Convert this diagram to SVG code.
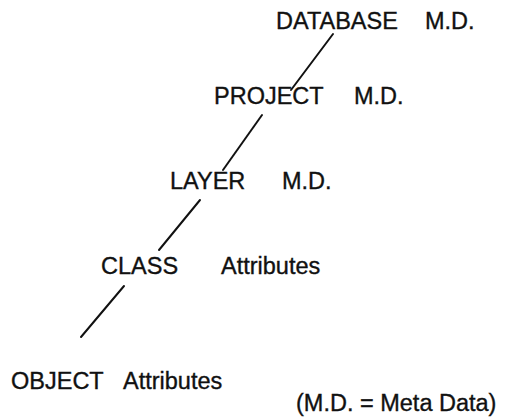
<svg xmlns="http://www.w3.org/2000/svg" width="505" height="417" viewBox="0 0 505 417">
  <style>
    .t { font-family: "Liberation Sans", Arial, Helvetica, sans-serif; font-size: 23.5px; fill: #111; stroke: #111; stroke-width: 0.35; }
    .c { stroke: #111; stroke-width: 2; fill: none; stroke-linecap: round; }
  </style>
  <rect width="505" height="417" fill="#fff"/>
  <g id="connectors">
    <line class="c" x1="333" y1="34" x2="291" y2="90"/>
    <line class="c" x1="262" y1="115" x2="223" y2="170"/>
    <line class="c" x1="200" y1="200" x2="159" y2="250"/>
    <line class="c" x1="124" y1="286" x2="81" y2="337"/>
  </g>
  <g id="database">
    <text class="t" x="276" y="29">DATABASE</text>
    <text class="t" x="425" y="29">M.D.</text>
  </g>
  <g id="project">
    <text class="t" x="214" y="104">PROJECT</text>
    <text class="t" x="354" y="104">M.D.</text>
  </g>
  <g id="layer">
    <text class="t" x="170" y="189">LAYER</text>
    <text class="t" x="282" y="189">M.D.</text>
  </g>
  <g id="class">
    <text class="t" x="101" y="274">CLASS</text>
    <text class="t" x="221" y="274">Attributes</text>
  </g>
  <g id="object">
    <text class="t" x="11" y="389">OBJECT</text>
    <text class="t" x="123" y="389">Attributes</text>
  </g>
  <g id="legend">
    <text class="t" x="296" y="411">(M.D. = Meta Data)</text>
  </g>
</svg>
